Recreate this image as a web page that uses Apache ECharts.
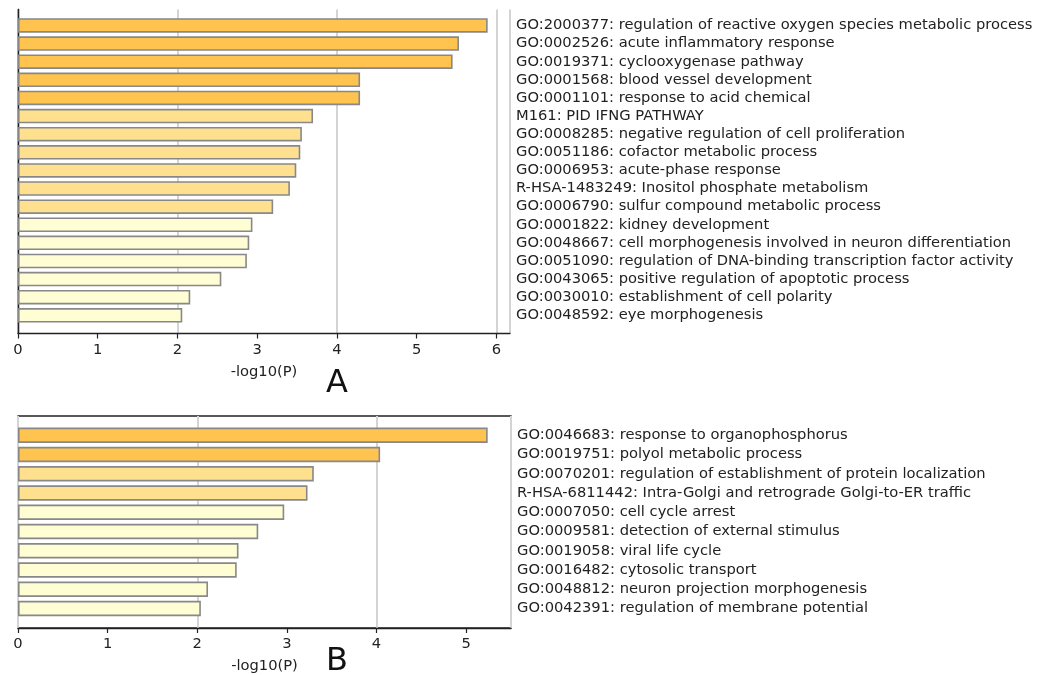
<!DOCTYPE html>
<html><head><meta charset="utf-8">
<script src="https://cdn.jsdelivr.net/npm/echarts@6/dist/echarts.min.js"></script>
<style>html,body{margin:0;padding:0;background:#fff}#c{width:1050px;height:675px}</style>
</head><body><div id="c"></div>
<script>
const termsA = [
  'GO:2000377: regulation of reactive oxygen species metabolic process',
  'GO:0002526: acute inflammatory response',
  'GO:0019371: cyclooxygenase pathway',
  'GO:0001568: blood vessel development',
  'GO:0001101: response to acid chemical',
  'M161: PID IFNG PATHWAY',
  'GO:0008285: negative regulation of cell proliferation',
  'GO:0051186: cofactor metabolic process',
  'GO:0006953: acute-phase response',
  'R-HSA-1483249: Inositol phosphate metabolism',
  'GO:0006790: sulfur compound metabolic process',
  'GO:0001822: kidney development',
  'GO:0048667: cell morphogenesis involved in neuron differentiation',
  'GO:0051090: regulation of DNA-binding transcription factor activity',
  'GO:0043065: positive regulation of apoptotic process',
  'GO:0030010: establishment of cell polarity',
  'GO:0048592: eye morphogenesis'
];
const valuesA = [5.89, 5.53, 5.45, 4.29, 4.29, 3.70, 3.56, 3.54, 3.49, 3.41, 3.20, 2.94, 2.90, 2.87, 2.55, 2.16, 2.06];
const termsB = [
  'GO:0046683: response to organophosphorus',
  'GO:0019751: polyol metabolic process',
  'GO:0070201: regulation of establishment of protein localization',
  'R-HSA-6811442: Intra-Golgi and retrograde Golgi-to-ER traffic',
  'GO:0007050: cell cycle arrest',
  'GO:0009581: detection of external stimulus',
  'GO:0019058: viral life cycle',
  'GO:0016482: cytosolic transport',
  'GO:0048812: neuron projection morphogenesis',
  'GO:0042391: regulation of membrane potential'
];
const valuesB = [5.24, 4.04, 3.30, 3.23, 2.97, 2.68, 2.46, 2.44, 2.12, 2.04];
const ticksA = [0, 1, 2, 3, 4, 5, 6];
const ticksB = [0, 1, 2, 3, 4, 5];
const axisMaxA = 6.17;
const axisMaxB = 5.5;
const axisTitle = '-log10(P)';
const panelLabels = ['A', 'B'];

function barColor(v) {
  if (v >= 4) return '#FFC34F';
  if (v >= 3) return '#FFE08F';
  return '#FFFDD3';
}
const FONT = 'DejaVu Sans';
const FS = 14.7;
const spine = { show: true, lineStyle: { color: '#222', width: 1.3 } };

function frameX(gridIndex, max, ticks) {
  return {
    type: 'value', gridIndex, min: 0, max, position: 'bottom',
    axisLine: spine,
    axisTick: { show: true, length: 5, lineStyle: { color: '#222', width: 1.2 }, customValues: ticks },
    axisLabel: { customValues: ticks, fontSize: FS, color: '#222', margin: 9, fontFamily: FONT },
    splitLine: { show: false },
    name: axisTitle, nameLocation: 'middle', nameGap: 31,
    nameTextStyle: { fontSize: FS, color: '#222', fontFamily: FONT }
  };
}
function gridX(gridIndex, max) {
  return {
    type: 'value', gridIndex, min: 0, max, interval: 2,
    axisLine: { show: false }, axisTick: { show: false }, axisLabel: { show: false },
    splitLine: { show: true, lineStyle: { color: '#d4d4d4', width: 2 } }
  };
}
function hiddenX(gridIndex, max) {
  return { type: 'value', gridIndex, min: 0, max, show: false };
}
function catY(gridIndex, data) {
  return {
    type: 'category', gridIndex, data, inverse: true, position: 'right',
    axisLine: { show: false }, axisTick: { show: false },
    axisLabel: { interval: 0, hideOverlap: false, margin: 6, fontSize: FS, color: '#222', align: 'left', fontFamily: FONT }
  };
}
function barSeries(xi, yi, vals) {
  return {
    type: 'bar', xAxisIndex: xi, yAxisIndex: yi, barCategoryGap: '20%',
    data: vals.map(v => ({ value: v, itemStyle: { color: barColor(v) } })),
    itemStyle: { borderColor: '#888', borderWidth: 1.6 },
    silent: true
  };
}

const chart = echarts.init(document.getElementById('c'), null, { renderer: 'canvas' });
chart.setOption({
  animation: false,
  backgroundColor: '#fff',
  textStyle: { fontFamily: FONT },
  grid: [
    { left: 18, top: 9.5, width: 492, height: 324 },
    { left: 18, top: 16.4, width: 492, height: 308 },
    { left: 18, top: 416, width: 493, height: 212, show: true, borderColor: '#222', borderWidth: 1.3 },
    { left: 18, top: 425.6, width: 493, height: 192.5 }
  ],
  xAxis: [
    frameX(0, axisMaxA, ticksA),
    gridX(0, axisMaxA),
    hiddenX(1, axisMaxA),
    frameX(2, axisMaxB, ticksB),
    gridX(2, axisMaxB),
    hiddenX(3, axisMaxB)
  ],
  yAxis: [
    { type: 'value', gridIndex: 0, position: 'left', axisLine: spine, axisTick: { show: false }, axisLabel: { show: false }, splitLine: { show: false } },
    { type: 'value', gridIndex: 0, position: 'right', axisLine: spine, axisTick: { show: false }, axisLabel: { show: false }, splitLine: { show: false } },
    catY(1, termsA),
    { type: 'value', gridIndex: 2, show: false },
    catY(3, termsB)
  ],
  series: [
    barSeries(2, 2, valuesA),
    barSeries(5, 4, valuesB)
  ],
  graphic: [
    { type: 'text', x: 337, y: 384, style: { text: panelLabels[0], font: '32px "DejaVu Sans"', fill: '#111', textAlign: 'center', textVerticalAlign: 'middle' } },
    { type: 'text', x: 337, y: 662, style: { text: panelLabels[1], font: '32px "DejaVu Sans"', fill: '#111', textAlign: 'center', textVerticalAlign: 'middle' } }
  ]
});
</script></body></html>
